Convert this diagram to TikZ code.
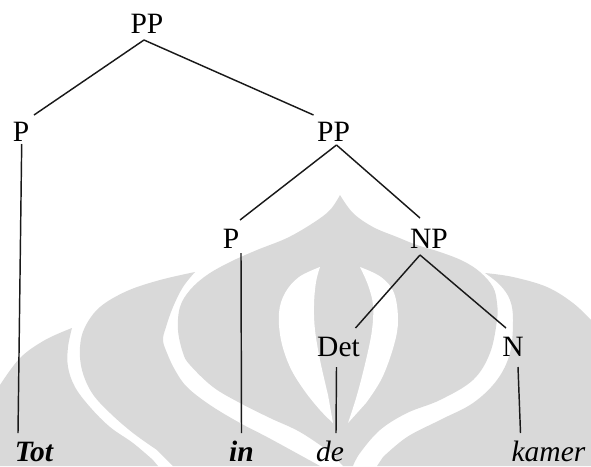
\documentclass[tikz,border=0pt]{standalone}
\usepackage{fontspec}
\setmainfont{Liberation Serif}
\begin{document}
\begin{tikzpicture}[x=1pt,y=-1pt,
  lbl/.style={anchor=base,inner sep=0pt,font=\fontsize{29.5}{35}\selectfont},
  edge/.style={line width=1.45pt,black!90},
  wm/.style={fill=black!15},
  wmw/.style={fill=white}]
\useasboundingbox (0,0) rectangle (591,466);
% watermark
\fill[wm] plot[smooth,tension=0.6] coordinates {(72,328) (45,340) (20,358) (0,385)} -- (0,466) -- (158,466)
  -- plot[smooth,tension=0.6] coordinates {(153,460) (133,443) (110,427) (90,407) (75,387) (68,367) (68,347) (72,328)} -- cycle;
\fill[wm] plot[smooth,tension=0.6] coordinates {(195,272) (183,287) (173,307) (166,327) (163,340) (167,353) (175,370) (187,387) (210,405) (240,423) (267,437) (300,455) (320,466)}
  -- (173,466) -- plot[smooth,tension=0.6] coordinates {(157,450) (133,433) (110,413) (92,393) (82,370) (80,347) (85,327) (100,307) (127,291) (160,280) (195,272)} -- cycle;
\fill[wm] plot[smooth,tension=0.6] coordinates {(340,195) (353,213) (373,227) (397,237) (417,245) (440,252) (463,261) (480,272) (493,287) (497,303) (497,320) (490,353) (473,380) (440,400) (407,413) (380,430) (360,453) (353,466)}
  -- (343,466) -- plot[smooth,tension=0.6] coordinates {(330,452) (300,432) (270,418) (240,403) (213,387) (190,365) (183,353) (178,330) (180,307) (190,290) (207,275) (230,262) (257,250) (287,238) (313,223) (330,210) (340,195)} -- cycle;
\fill[wm] plot[smooth,tension=0.6] coordinates {(485,273) (513,277) (547,287) (573,303) (591,320)} -- (591,466) -- (377,466)
  -- plot[smooth,tension=0.6] coordinates {(383,457) (407,437) (440,420) (473,403) (497,380) (510,353) (513,320) (510,300) (500,285) (485,273)} -- cycle;
\fill[wmw] plot[smooth,tension=0.6] coordinates {(320,267) (299,277) (285,293) (279,313) (281,340) (290,367) (304,390) (320,410) (333,423)}
  -- plot[smooth,tension=0.6] coordinates {(328,395) (320,360) (315,330) (314,305) (316,282) (320,267)} -- cycle;
\fill[wmw] plot[smooth,tension=0.6] coordinates {(360,267) (368,285) (373,305) (372,330) (366,360) (357,395) (348,423)}
  -- plot[smooth,tension=0.6] coordinates {(366,403) (382,378) (394,345) (398,320) (394,293) (381,277) (360,267)} -- cycle;
% tree
\node[lbl] (root) at (147,33) {PP};
\node[lbl] (p1) at (21,141) {P};
\node[lbl] (pp2) at (333.5,141) {PP};
\node[lbl] (p2) at (231,248) {P};
\node[lbl] (np) at (429,248) {NP};
\node[lbl] (det) at (338.5,356) {Det};
\node[lbl] (n) at (513,356) {N};
\node[lbl] (tot) at (34,461) {\bfseries\itshape Tot};
\node[lbl] (win) at (241.5,461) {\bfseries\itshape in};
\node[lbl] (de) at (330,461) {\itshape de};
\node[lbl] (kamer) at (548.5,461) {\itshape kamer};
\draw[edge] ([shift={(-3,7)}]root.base) -- ([shift={(13,-26)}]p1.base);
\draw[edge] ([shift={(-3,7)}]root.base) -- ([shift={(-20,-26)}]pp2.base);
\draw[edge] ([shift={(0.7,3)}]p1.base) -- ([shift={(-16,-28)}]tot.base);
\draw[edge] ([shift={(3,4)}]pp2.base) -- ([shift={(9,-28)}]p2.base);
\draw[edge] ([shift={(3,4)}]pp2.base) -- ([shift={(-9,-30)}]np.base);
\draw[edge] ([shift={(10,5)}]p2.base) -- ([shift={(0,-28)}]win.base);
\draw[edge] ([shift={(-9,7)}]np.base) -- ([shift={(17,-28)}]det.base);
\draw[edge] ([shift={(-9,7)}]np.base) -- ([shift={(-7,-28)}]n.base);
\draw[edge] ([shift={(-2,11)}]det.base) -- ([shift={(6,-28)}]de.base);
\draw[edge] ([shift={(5,11)}]n.base) -- ([shift={(-28,-28)}]kamer.base);
\end{tikzpicture}
\end{document}
